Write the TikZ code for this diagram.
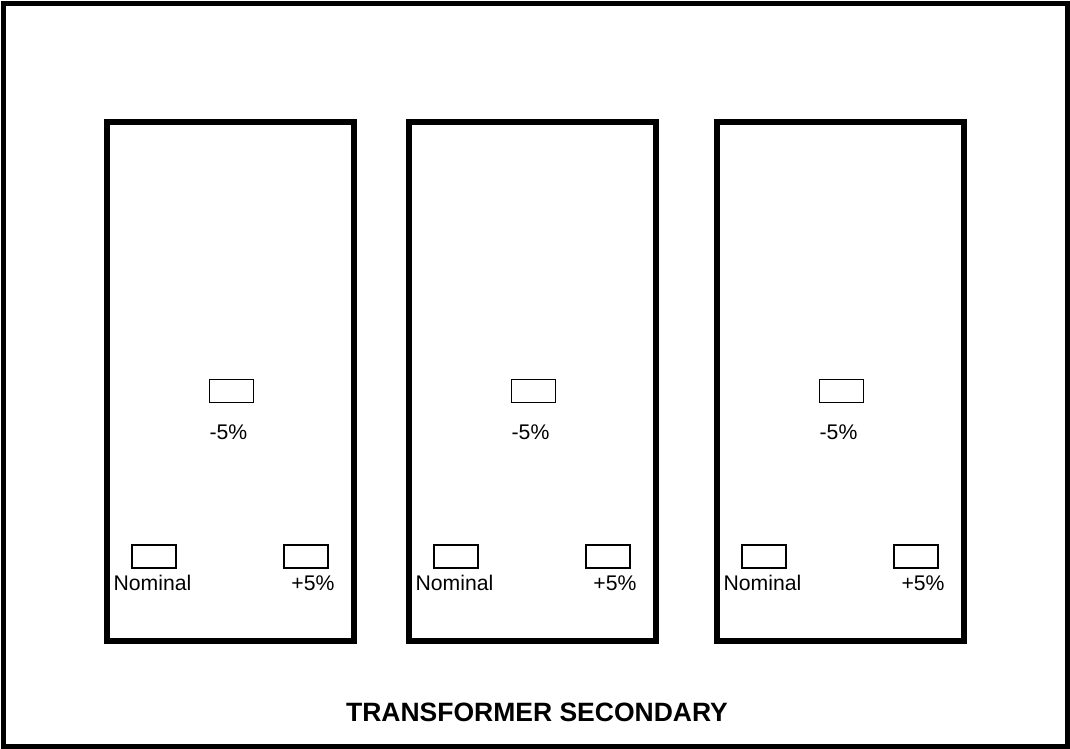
\documentclass[tikz,border=0pt]{standalone}
\usepackage{fontspec}
\setmainfont{Liberation Sans}
\usepackage{tikz}
\usetikzlibrary{positioning,calc}

\tikzset{
  panelbox/.style={draw,line width=6pt},
  tapbox/.style={draw,line width=1.6pt,minimum width=44pt,minimum height=23pt,inner sep=0pt},
  taplabel/.style={inner sep=0pt,font=\fontsize{21.2}{24}\selectfont}
}

\begin{document}
\begin{tikzpicture}[x=1pt,y=-1pt]
                \useasboundingbox (0,0) rectangle (1070,749);
                \draw[line width=5pt] (3.5,3.5) rectangle (1067,746);
                % the three tap panels
                \foreach \i/\px in {1/106.5,2/408.5,3/716.5}{
                    \draw[panelbox] (\px,122) rectangle ++(247.5,519);
                    \node[tapbox] (tapm\i) at (\px+125,391) {};
                    \node[taplabel] (labm\i) at (\px+122,432) {-5\%};
                    \node[tapbox] (tapn\i) at (\px+47.5,556.5) {};
                    \node[taplabel] (labn\i) at (\px+46,583) {Nominal};
                    \node[tapbox] (tapp\i) at (\px+199.5,556.5) {};
                    \node[taplabel] (labp\i) at (\px+206.5,583) {+5\%};
                }
                \node[font=\bfseries\fontsize{26.5}{30}\selectfont] (title) at (537,712) {TRANSFORMER SECONDARY};
            \end{tikzpicture}
\end{document}
